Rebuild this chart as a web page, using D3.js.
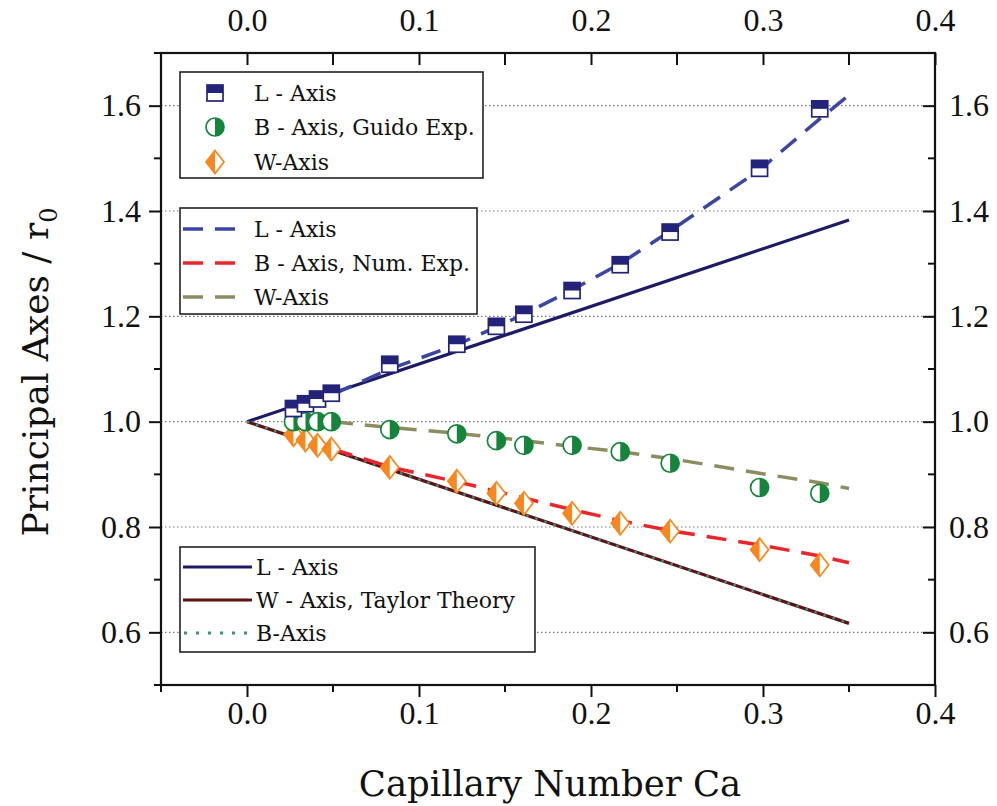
<!DOCTYPE html>
<html>
<head>
<meta charset="utf-8">
<script src="https://cdn.jsdelivr.net/npm/d3@7"></script>
<style>
  html, body { margin: 0; padding: 0; background: #fff; }
  svg { display: block; }
  text { font-family: "DejaVu Serif", "Liberation Serif", serif; fill: #111; }
  .tick text { font-family: "Liberation Serif", serif !important; font-size: 32px !important; }
</style>
</head>
<body>
<script>
// ---------------- data ----------------
const caExp  = [0.027, 0.034, 0.041, 0.049, 0.083, 0.122, 0.145, 0.161, 0.189, 0.217, 0.246, 0.298, 0.333];
const lExp   = [1.025, 1.034, 1.043, 1.054, 1.109, 1.147, 1.181, 1.204, 1.249, 1.298, 1.360, 1.481, 1.594];
const bExp   = [1.000, 1.000, 1.000, 1.000, 0.985, 0.977, 0.964, 0.955, 0.955, 0.943, 0.921, 0.875, 0.864];
const wExp   = [0.975, 0.965, 0.955, 0.948, 0.913, 0.887, 0.864, 0.845, 0.826, 0.807, 0.792, 0.757, 0.728];

const caNum  = [0.05, 0.083, 0.122, 0.145, 0.161, 0.189, 0.217, 0.246, 0.298, 0.333, 0.35];
const lNum   = [1.052, 1.100, 1.146, 1.180, 1.204, 1.250, 1.300, 1.362, 1.478, 1.575, 1.620];
const bNum   = [0.948, 0.914, 0.886, 0.868, 0.855, 0.833, 0.812, 0.793, 0.766, 0.745, 0.732];
const wNum   = [1.000, 0.989, 0.978, 0.970, 0.964, 0.953, 0.943, 0.930, 0.902, 0.884, 0.873];

const caTay  = [0, 0.35];
const lTay   = [1, 1.383];
const wTay   = [1, 0.617];
const bTay   = [1, 0.617];

const xTicks = [0.0, 0.1, 0.2, 0.3, 0.4];
const yTicks = [0.6, 0.8, 1.0, 1.2, 1.4, 1.6];
const xMinor = [-0.05, 0.05, 0.15, 0.25, 0.35];
const yMinor = [0.5, 0.7, 0.9, 1.1, 1.3, 1.5, 1.7];

const legendMarkers = ["L - Axis", "B - Axis, Guido Exp.", "W-Axis"];
const legendDashed  = ["L - Axis", "B - Axis, Num. Exp.", "W-Axis"];
const legendTheory  = ["L - Axis", "W - Axis, Taylor Theory", "B-Axis"];

// ---------------- styles ----------------
const C = {
  navy: "#23237a", lDash: "#3a46a0", red: "#e8262b", olive: "#8e8c5e",
  green: "#14853a", orange: "#f7881f", tayL: "#1c1c66", tayW: "#5e1212", tayB: "#3b8f80"
};

const W = 997, H = 806;
const m = { left: 161, right: 935, top: 53, bottom: 685 };

const svg = d3.select("body").append("svg").attr("width", W).attr("height", H);

const x = d3.scaleLinear().domain([-0.05, 0.4]).range([m.left, m.right]);
const y = d3.scaleLinear().domain([0.5, 1.7]).range([m.bottom, m.top]);

// gridlines
svg.append("g").selectAll("line").data(yTicks).join("line")
  .attr("x1", m.left).attr("x2", m.right)
  .attr("y1", d => y(d)).attr("y2", d => y(d))
  .attr("stroke", "#777").attr("stroke-width", 1.2).attr("stroke-dasharray", "1.5,2.5");

const line = d3.line().x(d => x(d[0])).y(d => y(d[1]));
const pts = (xs, ys) => xs.map((v, i) => [v, ys[i]]);

// theory lines
svg.append("path").attr("d", line(pts(caTay, lTay))).attr("fill", "none")
  .attr("stroke", C.tayL).attr("stroke-width", 3.2);
svg.append("path").attr("d", line(pts(caTay, wTay))).attr("fill", "none")
  .attr("stroke", C.tayW).attr("stroke-width", 3.2);
svg.append("path").attr("d", line(pts(caTay, bTay))).attr("fill", "none")
  .attr("stroke", C.tayB).attr("stroke-width", 2.4).attr("stroke-dasharray", "2.5,7");

// numerical dashed lines
const dash = "20,12";
svg.append("path").attr("d", line(pts(caNum, lNum))).attr("fill", "none")
  .attr("stroke", C.lDash).attr("stroke-width", 3.5).attr("stroke-dasharray", dash);
svg.append("path").attr("d", line(pts(caNum, bNum))).attr("fill", "none")
  .attr("stroke", C.red).attr("stroke-width", 3.5).attr("stroke-dasharray", dash);
svg.append("path").attr("d", line(pts(caNum, wNum))).attr("fill", "none")
  .attr("stroke", C.olive).attr("stroke-width", 3.5).attr("stroke-dasharray", dash);

// marker drawers
function square(g, cx, cy) {
  const s = 16;
  g.append("rect").attr("x", cx - s/2).attr("y", cy - s/2).attr("width", s).attr("height", s)
    .attr("fill", "#fff").attr("stroke", C.navy).attr("stroke-width", 1.7);
  g.append("rect").attr("x", cx - s/2).attr("y", cy - s/2).attr("width", s).attr("height", s/2)
    .attr("fill", C.navy);
}
function circle(g, cx, cy) {
  const r = 9;
  g.append("circle").attr("cx", cx).attr("cy", cy).attr("r", r)
    .attr("fill", "#fff").attr("stroke", C.green).attr("stroke-width", 1.7);
  g.append("path").attr("d", `M${cx},${cy - r} A${r},${r} 0 0 1 ${cx},${cy + r} Z`).attr("fill", C.green);
}
function diamond(g, cx, cy) {
  const h = 11.5, w = 9;
  g.append("path").attr("d", `M${cx},${cy - h} L${cx + w},${cy} L${cx},${cy + h} L${cx - w},${cy} Z`)
    .attr("fill", "#fff").attr("stroke", C.orange).attr("stroke-width", 1.7);
  g.append("path").attr("d", `M${cx},${cy - h} L${cx - w},${cy} L${cx},${cy + h} Z`).attr("fill", C.orange);
}

const gm = svg.append("g");
caExp.forEach((c, i) => diamond(gm, x(c), y(wExp[i])));
caExp.forEach((c, i) => circle(gm, x(c), y(bExp[i])));
caExp.forEach((c, i) => square(gm, x(c), y(lExp[i])));

// axes
const axB = svg.append("g").attr("transform", `translate(0,${m.bottom})`)
  .call(d3.axisBottom(x).tickValues(xTicks).tickFormat(d3.format(".1f")).tickSize(12).tickPadding(4));
const axT = svg.append("g").attr("transform", `translate(0,${m.top})`)
  .call(d3.axisTop(x).tickValues(xTicks).tickFormat(d3.format(".1f")).tickSize(-12).tickPadding(22));
const axL = svg.append("g").attr("transform", `translate(${m.left},0)`)
  .call(d3.axisLeft(y).tickValues(yTicks).tickFormat(d3.format(".1f")).tickSize(12).tickPadding(8));
const axR = svg.append("g").attr("transform", `translate(${m.right},0)`)
  .call(d3.axisRight(y).tickValues(yTicks).tickFormat(d3.format(".1f")).tickSize(-12).tickPadding(14));
[axB, axT, axL, axR].forEach(a => {
  a.select(".domain").remove();
  a.attr("font-family", null).attr("font-size", null);
  a.selectAll("line").attr("stroke", "#111").attr("stroke-width", 2);
  a.selectAll("text").attr("fill", "#111");
});
// minor ticks
svg.append("g").selectAll("line").data(xMinor).join("line")
  .attr("x1", d => x(d)).attr("x2", d => x(d)).attr("y1", m.bottom).attr("y2", m.bottom + 7)
  .attr("stroke", "#111").attr("stroke-width", 2);
svg.append("g").selectAll("line").data(xMinor).join("line")
  .attr("x1", d => x(d)).attr("x2", d => x(d)).attr("y1", m.top).attr("y2", m.top + 12)
  .attr("stroke", "#111").attr("stroke-width", 2);
svg.append("g").selectAll("line").data(yMinor).join("line")
  .attr("y1", d => y(d)).attr("y2", d => y(d)).attr("x1", m.left).attr("x2", m.left - 7)
  .attr("stroke", "#111").attr("stroke-width", 2);
svg.append("g").selectAll("line").data(yMinor).join("line")
  .attr("y1", d => y(d)).attr("y2", d => y(d)).attr("x1", m.right).attr("x2", m.right - 7)
  .attr("stroke", "#111").attr("stroke-width", 2);

// frame
svg.append("rect").attr("x", m.left).attr("y", m.top)
  .attr("width", m.right - m.left).attr("height", m.bottom - m.top)
  .attr("fill", "none").attr("stroke", "#111").attr("stroke-width", 2.2);

// axis titles
svg.append("text").attr("x", (m.left + m.right) / 2 + 2).attr("y", 796)
  .attr("text-anchor", "middle").style("font-size", "35.5px").text("Capillary Number Ca");
const yl = svg.append("text").attr("transform", `translate(48,${372}) rotate(-90)`)
  .attr("text-anchor", "middle").style("font-size", "36px");
yl.append("tspan").text("Principal Axes / r");
yl.append("tspan").attr("dy", 9).style("font-size", "24px").text("0");

// legends
const lfs = "22px";
function legendBox(x0, y0, w, h) {
  svg.append("rect").attr("x", x0).attr("y", y0).attr("width", w).attr("height", h)
    .attr("fill", "#fff").attr("stroke", "#222").attr("stroke-width", 1.6);
}
// box 1 : markers
legendBox(180, 72, 303, 106);
const g1 = svg.append("g");
const rows1 = [93, 127, 162];
square(g1, 215, rows1[0]); circle(g1, 215, rows1[1]); diamond(g1, 215, rows1[2]);
legendMarkers.forEach((t, i) => g1.append("text").attr("x", 254).attr("y", rows1[i] + 8).style("font-size", lfs).text(t));

// box 2 : dashed
legendBox(180, 208, 297, 106);
const g2 = svg.append("g");
const rows2 = [229, 263, 297];
const dashCols = [C.lDash, C.red, C.olive];
rows2.forEach((r, i) => {
  g2.append("line").attr("x1", 183).attr("x2", 245).attr("y1", r).attr("y2", r)
    .attr("stroke", dashCols[i]).attr("stroke-width", 3.5).attr("stroke-dasharray", dash);
  g2.append("text").attr("x", 254).attr("y", r + 8).style("font-size", lfs).text(legendDashed[i]);
});

// box 3 : theory
legendBox(180, 547, 355, 105);
const g3 = svg.append("g");
const rows3 = [567, 600, 633];
g3.append("line").attr("x1", 183).attr("x2", 252).attr("y1", rows3[0]).attr("y2", rows3[0])
  .attr("stroke", C.tayL).attr("stroke-width", 3.2);
g3.append("line").attr("x1", 183).attr("x2", 252).attr("y1", rows3[1]).attr("y2", rows3[1])
  .attr("stroke", C.tayW).attr("stroke-width", 3.2);
g3.append("line").attr("x1", 184).attr("x2", 252).attr("y1", rows3[2]).attr("y2", rows3[2])
  .attr("stroke", C.tayB).attr("stroke-width", 3).attr("stroke-dasharray", "3,9");
legendTheory.forEach((t, i) => g3.append("text").attr("x", 256).attr("y", rows3[i] + 8).style("font-size", lfs).text(t));
</script>
</body>
</html>
